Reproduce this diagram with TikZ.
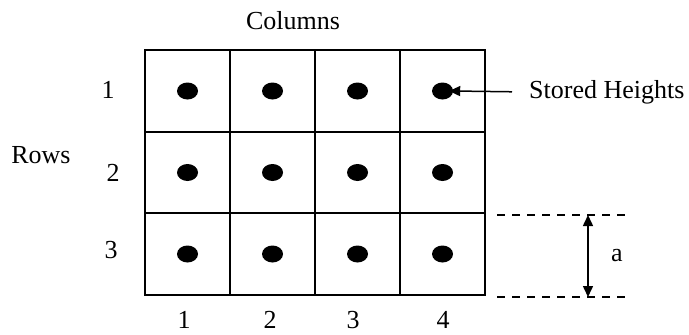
\documentclass[tikz,border=0pt]{standalone}
\usepackage{fontspec}
\setmainfont{Liberation Serif}
\usetikzlibrary{arrows.meta,shapes.geometric}
\begin{document}
\begin{tikzpicture}[x=1pt,y=-1pt,
  cell/.style={draw,line width=1.7pt,minimum width=85pt,minimum height=81.7pt,inner sep=0pt,outer sep=0pt},
  hdot/.style={ellipse,fill,inner sep=0pt,minimum width=21pt,minimum height=17pt},
  lab/.style={font=\fontsize{26}{30}\selectfont,inner sep=1pt},
  dim/.style={line width=1.4pt,dashed,dash pattern=on 8pt off 7pt},
  tip/.style={line width=1.5pt,{Triangle[length=11pt,width=10pt]}-{Triangle[length=11pt,width=10pt]}}]
\useasboundingbox (0,0) rectangle (689,335);
\foreach \r/\y in {1/91,2/172.5,3/254}{
  \foreach \c/\x in {1/187.5,2/272.5,3/357.5,4/442.5}{
    \node[cell] (cell-\r-\c) at (\x,\y) {};
    \node[hdot] (d-\r-\c) at (\x,\y) {};
  }
}
\node[lab] (colhead) at (293,21) {Columns};
\node[lab] (rowhead) at (41,155) {Rows};
\node[lab] (r1) at (108,90) {1};
\node[lab] (r2) at (113,173) {2};
\node[lab] (r3) at (111,250) {3};
\node[lab] (c1) at (184,320) {1};
\node[lab] (c2) at (270,320) {2};
\node[lab] (c3) at (353,320) {3};
\node[lab] (c4) at (443,320) {4};
\node[lab,anchor=west] (sh) at (528,92) {Stored Heights};
\draw[line width=1.5pt,shorten <=16pt,shorten >=-4pt,-{Triangle[length=11pt,width=10pt]}] (sh.west) -- (d-1-4.east);
\coordinate (tl) at (497,215);
\coordinate (tr) at (628,215);
\coordinate (bl) at (497,297);
\coordinate (br) at (628,297);
\coordinate (at) at (588,215);
\coordinate (ab) at (588,297);
\draw[dim] (tl) -- (tr);
\draw[dim] (bl) -- (br);
\draw[tip] (at) -- (ab);
\node[lab] (alab) at (617,256) {a};
\end{tikzpicture}
\end{document}
